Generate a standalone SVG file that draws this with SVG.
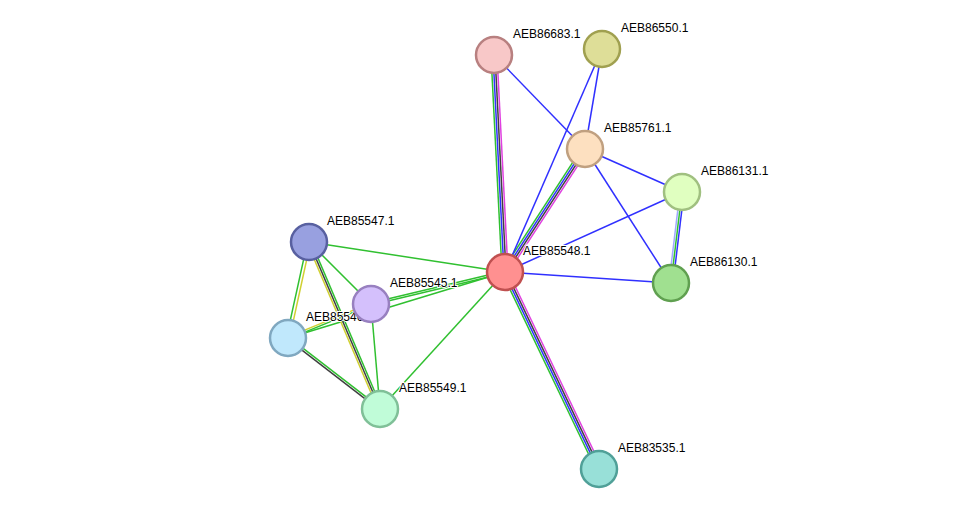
<svg xmlns="http://www.w3.org/2000/svg" width="975" height="515" viewBox="0 0 975 515">
<style>
line{stroke-width:1.5}
.b{stroke:#3030ff}.g{stroke:#30c030}.k{stroke:#404040}.m{stroke:#e040e0}.y{stroke:#d0d030}.lb{stroke:#a0a8ff}
circle{stroke-width:2.5}
text{font-family:"Liberation Sans",Arial,sans-serif;font-size:12px;fill:#000;stroke:#fff;stroke-width:2px;paint-order:stroke}
</style>
<rect width="975" height="515" fill="#fff"/>
<g id="edges">
<line class="g" x1="502" y1="272" x2="491" y2="55"/><line class="b" x1="504" y1="272" x2="493" y2="55"/><line class="k" x1="506" y1="272" x2="495" y2="55"/><line class="m" x1="508" y1="272" x2="497" y2="55"/>
<line class="g" x1="502.3" y1="273.3" x2="596.3" y2="470.3"/><line class="b" x1="504.1" y1="272.4" x2="598.1" y2="469.4"/><line class="k" x1="505.9" y1="271.6" x2="599.9" y2="468.6"/><line class="m" x1="507.7" y1="270.7" x2="601.7" y2="467.7"/>
<line class="g" x1="502.5" y1="270.35" x2="582.5" y2="147.35"/><line class="b" x1="504.2" y1="271.45" x2="584.2" y2="148.45"/><line class="k" x1="505.8" y1="272.55" x2="585.8" y2="149.55"/><line class="m" x1="507.5" y1="273.65" x2="587.5" y2="150.65"/>
<line class="b" x1="505" y1="272" x2="602" y2="49"/>
<line class="b" x1="505" y1="272" x2="682" y2="192"/>
<line class="b" x1="505" y1="272" x2="671" y2="283"/>
<line class="b" x1="494" y1="55" x2="585" y2="149"/>
<line class="b" x1="602" y1="49" x2="585" y2="149"/>
<line class="b" x1="585" y1="149" x2="682" y2="192"/>
<line class="b" x1="585" y1="149" x2="671" y2="283"/>
<line class="lb" x1="680" y1="191.8" x2="669" y2="282.8"/><line class="g" x1="682" y1="192" x2="671" y2="283"/><line class="b" x1="684" y1="192.2" x2="673" y2="283.2"/>
<line class="g" x1="505" y1="272" x2="309" y2="242"/>
<line class="g" x1="505.2" y1="273" x2="371.2" y2="305"/><line class="g" x1="504.8" y1="271" x2="370.8" y2="303"/>
<line class="g" x1="505" y1="272" x2="288" y2="338"/>
<line class="g" x1="505" y1="272" x2="380" y2="409"/>
<line class="g" x1="309" y1="242" x2="371" y2="304"/>
<line class="g" x1="307.5" y1="241.7" x2="286.5" y2="337.7"/><line class="y" x1="310.5" y1="242.3" x2="289.5" y2="338.3"/>
<line class="y" x1="307.2" y1="242.8" x2="378.2" y2="409.8"/><line class="k" x1="309" y1="242" x2="380" y2="409"/><line class="g" x1="310.8" y1="241.2" x2="381.8" y2="408.2"/>
<line class="y" x1="287.6" y1="337.1" x2="370.6" y2="303.1"/><line class="g" x1="288.4" y1="338.9" x2="371.4" y2="304.9"/>
<line class="k" x1="287.4" y1="338.8" x2="379.4" y2="409.8"/><line class="g" x1="288.6" y1="337.2" x2="380.6" y2="408.2"/>
<line class="g" x1="371" y1="304" x2="380" y2="409"/>
</g>
<g id="n546"><circle cx="288" cy="338" r="18" fill="#c0e8fc" stroke="#80a8c0"/><text x="306" y="321">AEB85546.1</text></g>
<g id="n548"><circle cx="505" cy="272" r="18" fill="#ff9090" stroke="#c05050"/><text x="523" y="255">AEB85548.1</text></g>
<g id="n683"><circle cx="494" cy="55" r="18" fill="#f8c8c8" stroke="#b88080"/><text x="513" y="38">AEB86683.1</text></g>
<g id="n550"><circle cx="602" cy="49" r="18" fill="#dede98" stroke="#a0a050"/><text x="621" y="32">AEB86550.1</text></g>
<g id="n761"><circle cx="585" cy="149" r="18" fill="#fde0c0" stroke="#c0a080"/><text x="604" y="132">AEB85761.1</text></g>
<g id="n131"><circle cx="682" cy="192" r="18" fill="#e0ffc0" stroke="#a0c080"/><text x="701" y="175">AEB86131.1</text></g>
<g id="n130"><circle cx="671" cy="283" r="18" fill="#a0e090" stroke="#60a050"/><text x="690" y="266">AEB86130.1</text></g>
<g id="n547"><circle cx="309" cy="242" r="18" fill="#98a0e0" stroke="#5860a0"/><text x="327" y="225">AEB85547.1</text></g>
<g id="n545"><circle cx="371" cy="304" r="18" fill="#d4c0fc" stroke="#9880c0"/><text x="390" y="287">AEB85545.1</text></g>
<g id="n549"><circle cx="380" cy="409" r="18" fill="#c0fcd8" stroke="#80c098"/><text x="399" y="392">AEB85549.1</text></g>
<g id="n535"><circle cx="599" cy="469" r="18" fill="#98e0d8" stroke="#50a098"/><text x="618" y="452">AEB83535.1</text></g>
</svg>
